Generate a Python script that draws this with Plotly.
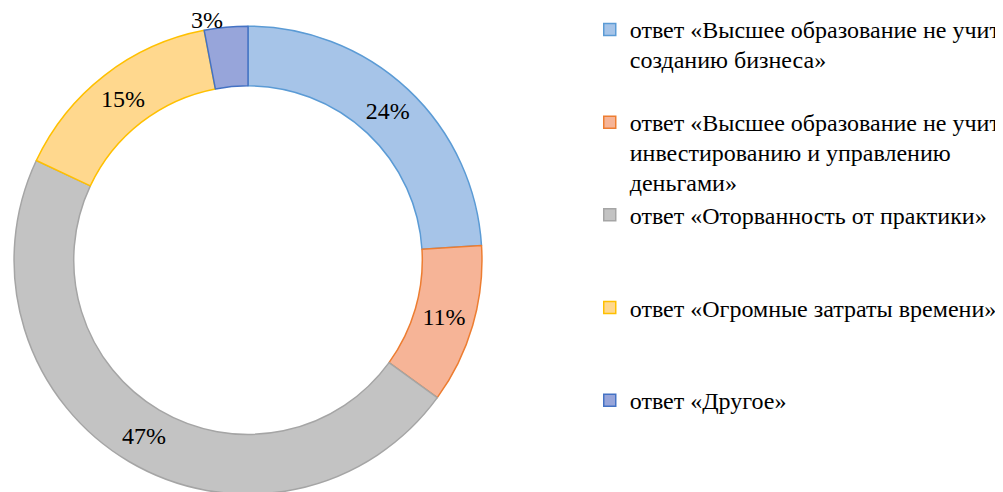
import math
import plotly.graph_objects as go

legend_lines = [
    ["ответ «Высшее образование не учит", "созданию бизнеса»"],
    ["ответ «Высшее образование не учит", "инвестированию и управлению", "деньгами»"],
    ["ответ «Оторванность от практики»"],
    ["ответ «Огромные затраты времени»"],
    ["ответ «Другое»"],
]
values = [24, 11, 47, 15, 3]
fill_colors = ["#a6c4e8", "#f6b497", "#c3c3c3", "#ffd88e", "#97a5da"]
line_colors = ["#5b9bd5", "#ed7d31", "#a5a5a5", "#ffc000", "#4472c4"]
text_positions = ["inside", "inside", "inside", "inside", "none"]

SERIF = "Liberation Serif, Times New Roman, DejaVu Serif, serif"
LEG_LINES = 3
W, H = 1003, 492
DOM_X = [0.006, 0.4726]
DOM_Y = [0.012, 0.963]


def legend_label(lines, last):
    n = len(lines) if last else LEG_LINES
    padded = lines + [" "] * (n - len(lines))
    return "<br>".join(f"<span style='font-size:24px'>{l}</span>" for l in padded)


labels = [legend_label(l, i == len(legend_lines) - 1) for i, l in enumerate(legend_lines)]

fig = go.Figure(go.Pie(
    labels=labels,
    values=values,
    sort=False,
    direction="clockwise",
    rotation=0,
    hole=0.745,
    marker=dict(colors=fill_colors, line=dict(color=line_colors, width=1.5)),
    texttemplate="%{value}%",
    textposition=text_positions,
    insidetextorientation="horizontal",
    textfont=dict(family=SERIF, size=24, color="black"),
    domain=dict(x=DOM_X, y=DOM_Y),
))

# label for the thin last slice, placed just outside the ring at its mid-angle
total = sum(values)
before = sum(values[:-1])
theta = 2 * math.pi * (before + values[-1] / 2) / total
cx = (DOM_X[0] + DOM_X[1]) / 2 * W
cy = (1 - (DOM_Y[0] + DOM_Y[1]) / 2) * H
R = min((DOM_X[1] - DOM_X[0]) * W, (DOM_Y[1] - DOM_Y[0]) * H) / 2
rr = R * 1.03
ax = cx + rr * math.sin(theta)
ay = cy - rr * math.cos(theta)
fig.add_annotation(
    x=ax / W, y=1 - ay / H, xref="paper", yref="paper",
    text=f"{values[-1]}%", showarrow=False,
    xanchor="right", yanchor="middle",
    font=dict(family=SERIF, size=24, color="black"),
)

fig.update_layout(
    width=W, height=H,
    margin=dict(l=0, r=0, t=0, b=0, autoexpand=False),
    paper_bgcolor="white",
    plot_bgcolor="white",
    font=dict(family=SERIF, color="black"),
    showlegend=True,
    legend=dict(
        x=0.580, y=1.0, xanchor="left", yanchor="top",
        valign="top",
        font=dict(family=SERIF, size=23, color="black"),
        bgcolor="rgba(0,0,0,0)",
    ),
)

fig.write_html("out.html")
